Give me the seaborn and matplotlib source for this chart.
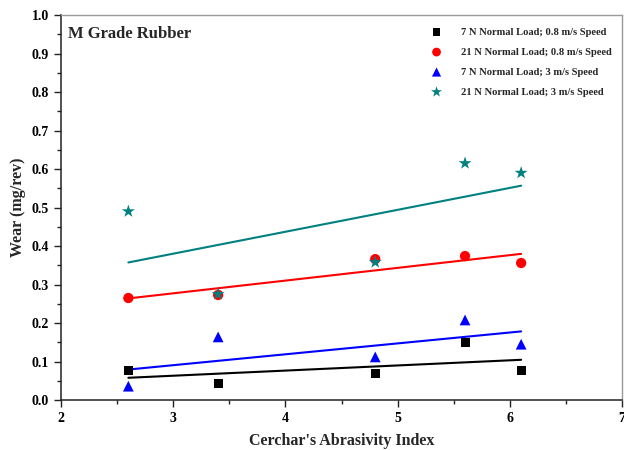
import numpy as np
import pandas as pd
import matplotlib
matplotlib.use("Agg")
import matplotlib.pyplot as plt
from matplotlib.ticker import MultipleLocator, FormatStrFormatter
import seaborn as sns

# Cerchar's Abrasivity Index of the tested rocks
cai = [2.6, 3.4, 4.8, 5.6, 6.1]

# Wear rate (mg/rev) for each test condition
wear_7n_08 = [0.078, 0.042, 0.068, 0.150, 0.078]
wear_21n_08 = [0.265, 0.273, 0.366, 0.374, 0.356]
wear_7n_3 = [0.036, 0.164, 0.112, 0.208, 0.145]
wear_21n_3 = [0.490, 0.275, 0.358, 0.615, 0.590]

labels = [
    "7 N Normal Load; 0.8 m/s Speed",
    "21 N Normal Load; 0.8 m/s Speed",
    "7 N Normal Load; 3 m/s Speed",
    "21 N Normal Load; 3 m/s Speed",
]
series = [wear_7n_08, wear_21n_08, wear_7n_3, wear_21n_3]
colors = ["#000000", "#ff0000", "#0000ff", "#008080"]
markers = ["s", "o", "^", "*"]
sizes = [42, 55, 60, 95]

sns.set_theme(style="white")
plt.rcParams["font.family"] = ["Liberation Serif", "DejaVu Serif"]
plt.rcParams["font.weight"] = "bold"

fig = plt.figure(figsize=(6.24, 4.5), dpi=100)
ax = fig.add_axes([0.0978, 0.111, 0.8992, 0.8556])

for lab, vals, c, m, s in zip(labels, series, colors, markers, sizes):
    df = pd.DataFrame({"cai": cai, "wear": vals})
    # least-squares trend line for each condition
    sns.regplot(data=df, x="cai", y="wear", ax=ax, scatter=False, ci=None,
                color=c, line_kws={"linewidth": 1.5})
    sns.scatterplot(data=df, x="cai", y="wear", ax=ax, color=c, marker=m,
                    s=s, edgecolor="none", label=lab, zorder=3)

ax.set_xlim(2, 7)
ax.set_ylim(0, 1.0)
ax.xaxis.set_major_locator(MultipleLocator(1))
ax.xaxis.set_minor_locator(MultipleLocator(0.5))
ax.yaxis.set_major_locator(MultipleLocator(0.1))
ax.yaxis.set_minor_locator(MultipleLocator(0.05))
ax.yaxis.set_major_formatter(FormatStrFormatter("%.1f"))

ax.tick_params(axis="both", which="major", direction="out", length=5, width=1,
               labelsize=10, colors="#222222", labelcolor="black",
               bottom=True, left=True)
ax.tick_params(axis="both", which="minor", direction="out", length=3, width=1,
               colors="#222222", bottom=True, left=True)
for t in ax.get_xticklabels() + ax.get_yticklabels():
    t.set_fontweight("bold")

for side in ["left", "bottom"]:
    ax.spines[side].set_color("#222222")
    ax.spines[side].set_linewidth(1.1)
for side in ["top", "right"]:
    ax.spines[side].set_color("#999999")
    ax.spines[side].set_linewidth(1.0)

ax.set_xlabel("Cerchar's Abrasivity Index", fontsize=11.5, fontweight="bold", labelpad=6)
ax.set_ylabel("Wear (mg/rev)", fontsize=11.5, fontweight="bold", labelpad=4)

ax.text(0.012, 0.95, "M Grade Rubber", transform=ax.transAxes, fontsize=12,
        fontweight="bold", va="center", ha="left")

leg = ax.legend(loc="upper right", bbox_to_anchor=(1.0, 0.995), frameon=False,
                prop={"family": "Liberation Serif", "weight": "bold", "size": 7.6},
                handletextpad=1.3, labelspacing=1.0, borderaxespad=0.6,
                markerscale=0.85)

fig.savefig("out.png", dpi=100)
